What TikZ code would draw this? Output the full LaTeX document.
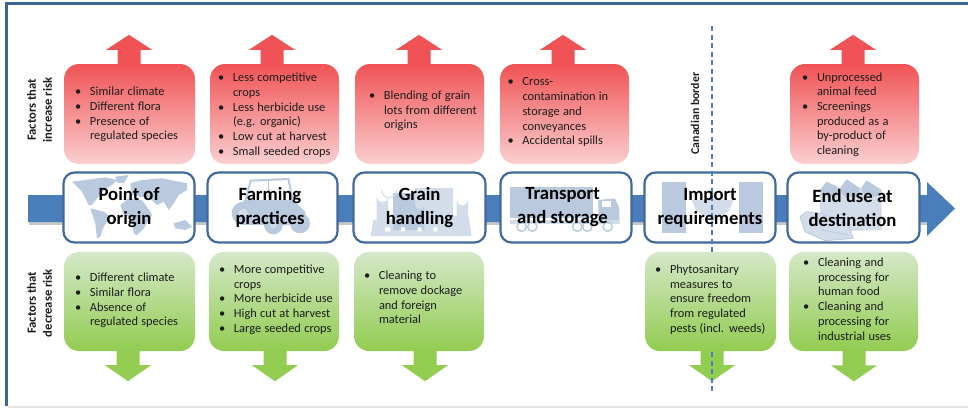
\documentclass[tikz,border=0pt]{standalone}
\usepackage{fontspec}
\setmainfont{Carlito}
\usetikzlibrary{calc}
\definecolor{frameblue}{HTML}{3C6595}
\definecolor{barblue}{HTML}{4A7EBB}
\definecolor{boxedge}{HTML}{41699A}
\definecolor{redtop}{HTML}{F05355}
\definecolor{redbot}{HTML}{FBCFD0}
\definecolor{greentop}{HTML}{D4E8C8}
\definecolor{greenbot}{HTML}{92CC50}
\definecolor{icon}{HTML}{B9C9DE}
\definecolor{iconlt}{HTML}{D3DDEA}
\definecolor{txt}{HTML}{1C1C1C}
\newdimen\bi
\newcommand\itemB[1]{\par\noindent\hspace*{\bi}\makebox[15pt][l]{\textbullet}#1}
\newcommand\itemC[1]{\par\noindent\hspace*{\bi}\hspace*{15pt}#1}
\newcommand\lift[1]{\par\kern#1pt\relax}
\newcommand\boxnode[8]{% style,name,x1,x2,y1,y2,indent,text
  \pgfmathsetmacro\bw{#4-#3}\pgfmathsetmacro\bh{#6-#5}
  \node[#1,minimum width=\bw pt,minimum height=\bh pt,text width=\bw pt] (#2) at ({(#3+#4)/2},{(#5+#6)/2})
    {\bi=#7pt\relax\fontsize{12.4}{14.7}\selectfont\color{txt}#8};}
\newcommand\uparr[2]{% box, centre x
  \coordinate (a) at (#1.north -| #2,0);
  \fill[redtop] ($(a)+(-11.5,2)$) -- ($(a)+(-11.5,-14)$) -- ($(a)+(-23,-14)$) -- ($(a)+(0,-29)$) -- ($(a)+(23,-14)$) -- ($(a)+(11.5,-14)$) -- ($(a)+(11.5,2)$) -- cycle;}
\newcommand\downarr[2]{%
  \coordinate (a) at (#1.south -| #2,0);
  \fill[greenbot] ($(a)+(-11.5,-2)$) -- ($(a)+(-11.5,14)$) -- ($(a)+(-23,14)$) -- ($(a)+(0,30)$) -- ($(a)+(23,14)$) -- ($(a)+(11.5,14)$) -- ($(a)+(11.5,-2)$) -- cycle;}
\tikzset{
  redbox/.style={shade,top color=redtop,bottom color=redbot,rounded corners=15pt,inner xsep=0pt,inner ysep=0pt,align=left},
  greenbox/.style={shade,top color=greentop,bottom color=greenbot,rounded corners=15pt,inner xsep=0pt,inner ysep=0pt,align=left},
  stage/.style={draw=boxedge,line width=2.2pt,fill=white,rounded corners=11pt,inner sep=0pt},
  stagetext/.style={font=\fontsize{18.7}{24}\selectfont\bfseries,text=black,align=center,inner sep=0pt},
  sidetext/.style={font=\fontsize{12.6}{16}\selectfont\bfseries,text=txt,align=center,rotate=90,inner sep=0pt},
  bordertext/.style={font=\fontsize{11.8}{14}\selectfont\bfseries,text=txt,rotate=90,inner sep=0pt},
  border/.style={draw=barblue,line width=1.3pt,dash pattern=on 5pt off 3.5pt},
  ic/.style={fill=icon},
  iclt/.style={fill=iconlt},
  zoomA/.style={x=0.33333pt,y=-0.33333pt}
}
\begin{document}
\begin{tikzpicture}[x=1pt,y=-1pt]
\useasboundingbox (0,0) rectangle (968,408);
% frame
\fill[frameblue] (5,2) rectangle (968,4.5);
\fill[frameblue] (5,2) rectangle (8,406);
\fill[black!10] (8,405.5) rectangle (968,408);
% main arrow
\coordinate (start) at (28,208.5);
\coordinate (end) at (955,208.5);
\fill[black!22] ($(start)+(1,13.5)$) rectangle (927,224.5);
\fill[barblue] ($(start)+(0,-13.5)$) -- ($(start)+(0,13.5)$) -- (927,222) -- (927,236) -- (end) -- (927,182) -- (927,195) -- cycle;
% risk boxes
\boxnode{redbox}{r1}{64}{195}{64}{164}{11}{\itemB{Similar climate}\itemB{Different flora}\itemB{Presence of}\itemC{regulated species}\lift{5}}
\boxnode{redbox}{r2}{210}{339}{64}{164}{8}{\itemB{Less competitive}\itemC{crops}\itemB{Less herbicide use}\itemC{(e.g. organic)}\itemB{Low cut at harvest}\itemB{Small seeded crops}\lift{4}}
\boxnode{redbox}{r3}{355}{484}{64}{164}{14}{\itemB{Blending of grain}\itemC{lots from different}\itemC{origins}\lift{12}}
\boxnode{redbox}{r4}{500}{629}{64}{164}{7.5}{\itemB{Cross-}\itemC{contamination in}\itemC{storage and}\itemC{conveyances}\itemB{Accidental spills}\lift{10}}
\boxnode{redbox}{r6}{790}{919}{64}{164}{12}{\itemB{Unprocessed}\itemC{animal feed}\itemB{Screenings}\itemC{produced as a}\itemC{by-product of}\itemC{cleaning}\lift{5}}
\boxnode{greenbox}{g1}{64}{195}{252}{351}{11}{\itemB{Different climate}\itemB{Similar flora}\itemB{Absence of}\itemC{regulated species}\lift{8}}
\boxnode{greenbox}{g2}{209}{339}{252}{351}{10}{\itemB{More competitive}\itemC{crops}\itemB{More herbicide use}\itemB{High cut at harvest}\itemB{Large seeded crops}\lift{10}}
\boxnode{greenbox}{g3}{354}{484}{252}{351}{10}{\itemB{Cleaning to}\itemC{remove dockage}\itemC{and foreign}\itemC{material}\lift{14}}
\boxnode{greenbox}{g5}{645}{776}{252}{351}{10}{\itemB{Phytosanitary}\itemC{measures to}\itemC{ensure freedom}\itemC{from regulated}\itemC{pests (incl. weeds)}\lift{10}}
\boxnode{greenbox}{g6}{789}{918}{252}{351}{14}{\itemB{Cleaning and}\itemC{processing for}\itemC{human food}\itemB{Cleaning and}\itemC{processing for}\itemC{industrial uses}\lift{11}}
% risk arrows
\uparr{r1}{129}\uparr{r2}{272}\uparr{r3}{419}\uparr{r4}{563}\uparr{r6}{853}
\downarr{g1}{128}\downarr{g2}{275}\downarr{g3}{425}\downarr{g5}{712}\downarr{g6}{854}
% stage boxes
\node[stage,minimum width=131pt,minimum height=70pt] (w1) at (129,207.5) {};
\node[stage,minimum width=130pt,minimum height=70pt] (w2) at (272.5,207.5) {};
\node[stage,minimum width=132pt,minimum height=70pt] (w3) at (419.5,207.5) {};
\node[stage,minimum width=131pt,minimum height=70pt] (w4) at (566,207.5) {};
\node[stage,minimum width=131pt,minimum height=70pt] (w5) at (710,207.5) {};
\node[stage,minimum width=132pt,minimum height=70pt] (w6) at (853.5,207.5) {};
% world map
\begin{scope}[shift={(62,170)},zoomA]
\fill[ic] (30,35) -- (70,30) -- (130,22) -- (165,30) -- (150,45) -- (125,60) -- (115,75) -- (105,85) -- (90,105) -- (80,105) -- (70,85) -- (60,65) -- (45,50) -- cycle;
\fill[ic] (160,20) -- (200,15) -- (185,40) -- (165,38) -- cycle;
\fill[ic] (85,115) -- (125,125) -- (145,140) -- (125,170) -- (115,200) -- (105,205) -- (100,160) -- cycle;
\fill[ic] (205,40) -- (240,30) -- (300,25) -- (375,40) -- (375,60) -- (350,75) -- (335,100) -- (320,120) -- (305,95) -- (285,105) -- (265,85) -- (235,80) -- (210,75) -- cycle;
\fill[ic] (175,105) -- (200,85) -- (240,90) -- (265,125) -- (270,135) -- (245,175) -- (225,195) -- (215,190) -- (210,145) -- (185,135) -- cycle;
\fill[ic] (335,160) -- (370,150) -- (390,170) -- (370,180) -- (340,175) -- cycle;
\end{scope}
% tractor
\begin{scope}[shift={(205,170)},zoomA]
\draw[icon,line width=2pt] (122,90) -- (137,32) -- (250,27) -- (265,100);
\draw[icon,line width=1.5pt] (190,30) -- (190,90);
\fill[ic] (115,90) -- (265,90) -- (300,125) -- (300,165) -- (115,165) -- cycle;
\fill[ic] (115,130) circle (35);
\fill[ic] (205,165) circle (28);
\fill[ic] (285,160) circle (30);
\fill[iclt] (115,130) circle (14);
\fill[iclt] (205,165) circle (10);
\end{scope}
% silos and truck
\begin{scope}[shift={(340,150)},zoomA]
\fill[iclt] (92,258) -- (100,210) -- (385,195) -- (395,258) -- cycle;
\fill[iclt] (110,240) -- (110,140) arc (180:0:17) -- (145,240) -- cycle;
\fill[ic] (160,240) rectangle (225,130);
\fill[iclt] (225,115) rectangle (338,240);
\fill[ic] (225,240) -- (225,165) arc (180:0:14) -- (253,240) -- cycle;
\fill[iclt] (350,240) -- (350,150) arc (180:0:17) -- (385,240) -- cycle;
\draw[iconlt,line width=1pt] (125,120) arc (180:0:23) (185,120) arc (180:0:24) (255,115) arc (180:0:25);
\fill[white] (135,232) rectangle (150,244) (183,232) rectangle (195,244) (233,232) rectangle (245,244) (280,232) rectangle (292,244);
% truck
\fill[ic] (510,110) rectangle (760,205);
\fill[ic] (775,150) -- (825,145) -- (838,175) -- (838,215) -- (775,215) -- cycle;
\fill[white] (785,152) rectangle (812,170);
\fill[iclt] (510,210) rectangle (840,222);
\draw[icon,line width=1.4pt] (545,230) circle (14) (577,230) circle (14) (712,230) circle (14) (742,230) circle (14) (803,230) circle (14);
\end{scope}
% flag
\begin{scope}[shift={(630,150)},zoomA]
\fill[ic] (95,95) rectangle (168,248);
\fill[ic] (327,95) rectangle (400,248);
\fill[iclt] (248,120) -- (262,150) -- (310,150) -- (295,185) -- (255,205) -- (248,225) -- (241,205) -- (200,185) -- (185,150) -- (234,150) -- cycle;
\end{scope}
% bags
\begin{scope}[shift={(785,170)},zoomA]
\fill[iclt] (105,185) -- (105,60) -- (125,35) -- (165,55) -- (185,28) -- (225,55) -- (245,32) -- (290,60) -- (290,180) -- cycle;
\fill[ic] (105,60) -- (125,35) -- (165,55) -- (150,80) -- (118,78) -- cycle;
\fill[ic] (165,55) -- (185,28) -- (225,55) -- (215,80) -- (175,78) -- cycle;
\fill[ic] (230,55) -- (245,32) -- (290,60) -- (275,80) -- (238,78) -- cycle;
\fill[iclt] (45,140) -- (65,125) -- (110,130) -- (190,165) -- (205,205) -- (120,212) -- (60,185) -- cycle;
\draw[icon,line width=.8pt] (45,140) -- (65,125) -- (110,130) -- (190,165) -- (205,205) -- (120,212) -- (60,185) -- cycle (110,180) -- (190,195);
\end{scope}
% border line
\coordinate (b1) at (712,26);
\coordinate (b2) at (712,252);
\coordinate (b3) at (712,352);
\coordinate (b4) at (712,394);
\draw[border] (b1) -- (b2);
\draw[border] (b3) -- (b4);
% labels
\node[stagetext] (t1) at (w1.center) {Point of\\origin};
\node[stagetext] (t2) at ($(w2.center)+(-2.5,0)$) {Farming\\practices};
\node[stagetext] (t3) at (w3.center) {Grain\\handling};
\node[stagetext] (t4) at ($(w4.center)+(-3.5,0)$) {Transport\\and storage};
\node[stagetext] (t5) at (w5.center) {Import\\requirements};
\node[stagetext] (t6) at ($(w6.center)+(-1,0)$) {End use at\\destination};
\node[sidetext] (s1) at (39.5,110) {Factors that\\increase risk};
\node[sidetext] (s2) at (39.5,303) {Factors that\\decrease risk};
\node[bordertext] (s3) at (695,113.5) {Canadian border};
\end{tikzpicture}
\end{document}
